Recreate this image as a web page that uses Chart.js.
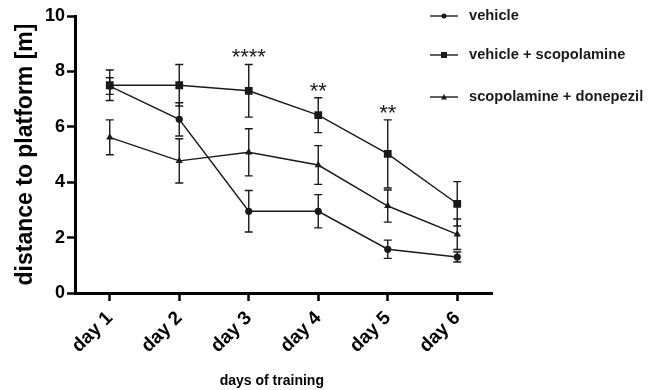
<!DOCTYPE html>
<html>
<head>
<meta charset="utf-8">
<script src="https://cdn.jsdelivr.net/npm/chart.js@4/dist/chart.umd.min.js"></script>
<style>
  html, body { margin: 0; padding: 0; background: #fff; }
  #wrap { width: 657px; height: 390px; position: relative; }
</style>
</head>
<body>
<div id="wrap"><canvas id="chart"></canvas></div>
<script>
// days on the x axis
const days = ["day 1", "day 2", "day 3", "day 4", "day 5", "day 6"];

// group names
const groupNames = ["vehicle", "vehicle + scopolamine", "scopolamine + donepezil"];

// mean distance per day
const vehicleMean = [7.47, 6.27, 2.95, 2.95, 1.58, 1.3];
const scopMean = [7.5, 7.5, 7.3, 6.42, 5.02, 3.22];
const donepezilMean = [5.62, 4.77, 5.08, 4.62, 3.14, 2.12];

// error bar size per day
const vehicleErr = [0.3, 0.6, 0.75, 0.6, 0.33, 0.18];
const scopErr = [0.55, 0.75, 0.95, 0.63, 1.23, 0.8];
const donepezilErr = [0.63, 0.8, 0.85, 0.7, 0.58, 0.55];

// significance stars above vehicle + scopolamine
const stars = ["", "", "****", "**", "**", ""];

const ink = "#1a1a1a";
const font = "'Liberation Sans', Arial, sans-serif";

// draws the error bars for every dataset
const errorBars = {
  id: "errorBars",
  afterDatasetsDraw(chart) {
    const ctx = chart.ctx;
    const y = chart.scales.y;
    ctx.save();
    ctx.strokeStyle = ink;
    ctx.lineWidth = 1.4;
    chart.data.datasets.forEach((ds, di) => {
      const meta = chart.getDatasetMeta(di);
      ds.data.forEach((v, i) => {
        const px = meta.data[i].x;
        const top = y.getPixelForValue(v + ds.errors[i]);
        const bot = y.getPixelForValue(v - ds.errors[i]);
        ctx.beginPath();
        ctx.moveTo(px, top); ctx.lineTo(px, bot);
        ctx.moveTo(px - 4, top); ctx.lineTo(px + 4, top);
        ctx.moveTo(px - 4, bot); ctx.lineTo(px + 4, bot);
        ctx.stroke();
      });
    });
    // stars
    const meta = chart.getDatasetMeta(1);
    ctx.fillStyle = ink;
    ctx.font = "22px " + font;
    ctx.textAlign = "center";
    ctx.textBaseline = "alphabetic";
    stars.forEach((s, i) => {
      if (!s) return;
      const top = y.getPixelForValue(scopMean[i] + scopErr[i]);
      ctx.fillText(s, meta.data[i].x, top);
    });
    ctx.restore();
  }
};

// legend drawn to the right, overlapping the plot like the original
const sideLegend = {
  id: "sideLegend",
  afterDraw(chart) {
    const ctx = chart.ctx;
    const rows = [16, 55, 97];
    ctx.save();
    ctx.strokeStyle = ink;
    ctx.fillStyle = ink;
    ctx.lineWidth = 1.4;
    ctx.font = "bold 14.7px " + font;
    ctx.textBaseline = "middle";
    chart.data.datasets.forEach((ds, i) => {
      const yy = rows[i];
      ctx.beginPath();
      ctx.moveTo(430, yy); ctx.lineTo(458, yy);
      ctx.stroke();
      ctx.beginPath();
      if (ds.pointStyle === "circle") {
        ctx.arc(444, yy, 2.5, 0, Math.PI * 2);
      } else if (ds.pointStyle === "rect") {
        ctx.rect(441, yy - 3, 6, 6);
      } else {
        ctx.moveTo(444, yy - 3); ctx.lineTo(447, yy + 2.5); ctx.lineTo(441, yy + 2.5); ctx.closePath();
      }
      ctx.fill();
      ctx.fillText(ds.label, 469, yy);
    });
    ctx.restore();
  }
};

function series(label, data, errors, style, radius) {
  return {
    label: label,
    data: data,
    errors: errors,
    borderColor: ink,
    backgroundColor: ink,
    borderWidth: 1.4,
    pointStyle: style,
    pointRadius: radius,
    pointBorderWidth: 0,
    tension: 0
  };
}

new Chart(document.getElementById("chart"), {
  type: "line",
  plugins: [errorBars, sideLegend],
  data: {
    labels: days,
    datasets: [
      series(groupNames[0], vehicleMean, vehicleErr, "circle", 3.6),
      series(groupNames[1], scopMean, scopErr, "rect", 5.5),
      series(groupNames[2], donepezilMean, donepezilErr, "triangle", 4.2)
    ]
  },
  options: {
    responsive: true,
    maintainAspectRatio: false,
    animation: false,
    layout: { padding: { top: 16, right: 165, left: 0, bottom: 0 } },
    plugins: { legend: { display: false }, tooltip: { enabled: false } },
    scales: {
      x: {
        offset: true,
        afterFit(scale) { scale.height = 97; },
        border: { display: true, color: "#000", width: 3 },
        grid: { display: true, drawOnChartArea: false, tickLength: 8, tickWidth: 2.5, tickColor: "#000", offset: false },
        ticks: {
          color: "#000",
          maxRotation: 45, minRotation: 45,
          padding: 6,
          font: { family: font, size: 19, weight: "bold" }
        },
        title: {
          display: true,
          text: "days of training      ",
          color: "#000",
          padding: { top: 4, bottom: 0 },
          font: { family: font, size: 14, weight: "bold" }
        }
      },
      y: {
        min: 0, max: 10,
        afterFit(scale) { scale.width = 75; },
        border: { display: true, color: "#000", width: 3 },
        grid: { display: true, drawOnChartArea: false, tickLength: 8, tickWidth: 2.5, tickColor: "#000" },
        ticks: {
          stepSize: 2,
          color: "#000",
          padding: 2,
          font: { family: font, size: 18, weight: "bold" }
        },
        title: {
          display: true,
          text: "distance to platform [m]",
          color: "#000",
          padding: { top: 12, bottom: 0 },
          font: { family: font, size: 23, weight: "bold" }
        }
      }
    }
  }
});
</script>
</body>
</html>
